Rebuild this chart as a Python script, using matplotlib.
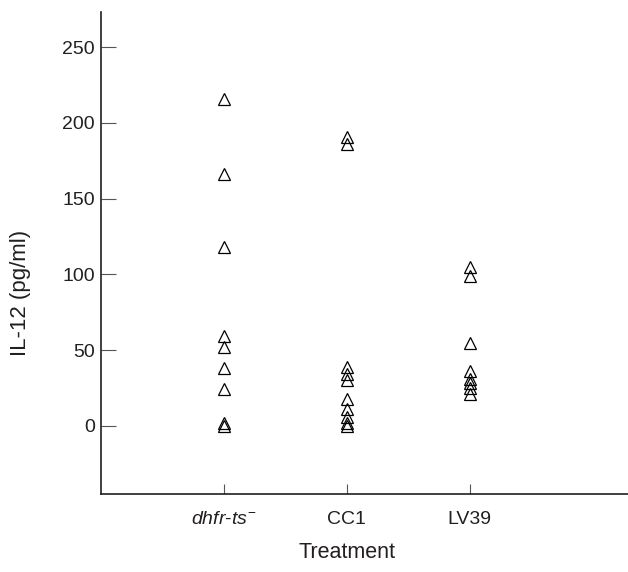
import matplotlib
matplotlib.use("Agg")

import matplotlib.pyplot as plt

# ---------------------------------------------------------------
# Data (IL-12 concentration per treatment group, pg/ml)
# ---------------------------------------------------------------
groups = ["dhfr-ts", "CC1", "LV39"]
tick_labels = [r"$dhfr$-$ts^{-}$", "CC1", "LV39"]

dhfr_ts_vals = [216, 166, 118, 59, 52, 38, 24, 2, 0]
cc1_vals = [191, 186, 39, 34, 30, 18, 11, 6, 2, 0]
lv39_vals = [105, 99, 55, 36, 31, 28, 25, 21]

y_ticks = [0, 50, 100, 150, 200, 250]

INK = "#231f20"

plt.rcParams["font.family"] = ["Liberation Sans", "DejaVu Sans"]
plt.rcParams["mathtext.fontset"] = "custom"
plt.rcParams["mathtext.rm"] = "Liberation Sans"
plt.rcParams["mathtext.it"] = "Liberation Sans:italic"


def main():
    fig = plt.figure(figsize=(6.28, 5.72), dpi=100)
    ax = fig.add_axes([0.1608, 0.1364, 0.8392, 0.842])

    for pos, vals in enumerate([dhfr_ts_vals, cc1_vals, lv39_vals], start=1):
        ax.plot([pos] * len(vals), vals, linestyle="none", marker="^",
                markersize=8.5, markerfacecolor="none",
                markeredgecolor="black", markeredgewidth=0.9)

    ax.set_xlim(0, 4.29)
    ax.set_ylim(-45, 273)

    ax.set_xticks([1, 2, 3])
    ax.set_xticklabels(tick_labels)
    ax.set_yticks(y_ticks)

    for side in ("top", "right"):
        ax.spines[side].set_visible(False)
    for side in ("left", "bottom"):
        ax.spines[side].set_color(INK)
        ax.spines[side].set_linewidth(1.2)

    ax.tick_params(axis="y", direction="in", length=11, width=0.8,
                   color="#555555", labelsize=14, labelcolor=INK, pad=4.5)
    ax.tick_params(axis="x", direction="in", length=7.5, width=0.8,
                   color="#555555", labelsize=14, labelcolor=INK, pad=12)

    ax.set_ylabel("IL-12 (pg/ml)", fontsize=16, color=INK)
    ax.yaxis.set_label_coords(-0.133, 0.417)
    ax.set_xlabel("Treatment", fontsize=15.5, color=INK)
    ax.xaxis.set_label_coords(0.467, -0.10)

    fig.savefig("out.png", dpi=100)
    plt.close(fig)


if __name__ == "__main__":
    main()
